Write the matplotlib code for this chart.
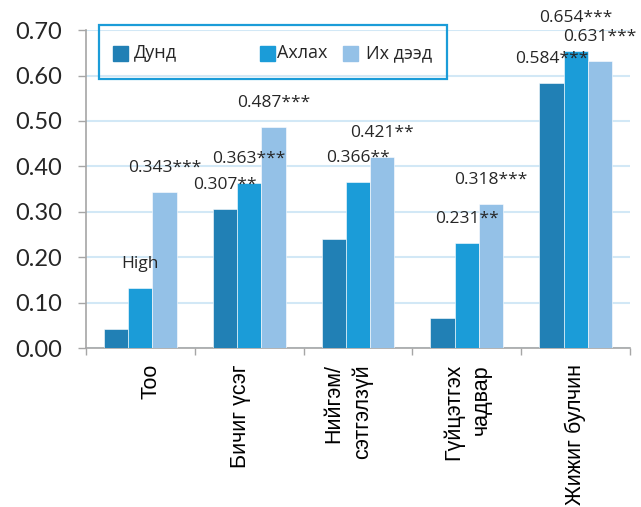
import numpy as np
import matplotlib.pyplot as plt
from matplotlib.patches import Rectangle

# Data
categories = ['Тоо', 'Бичиг үсэг', 'Нийгэм/\nсэтгэлзүй', 'Гүйцэтгэх\nчадвар', 'Жижиг булчин']
series_names = ['Дунд', 'Ахлах', 'Их дээд']
dund = [0.041, 0.307, 0.241, 0.067, 0.584]
akhlakh = [0.133, 0.363, 0.366, 0.231, 0.654]
ikh_deed = [0.343, 0.487, 0.421, 0.318, 0.631]

dund_labels = [None, '0.307**', None, None, '0.584***']
akhlakh_labels = ['High', '0.363***', '0.366**', '0.231**', '0.654***']
ikh_deed_labels = ['0.343***', '0.487***', '0.421**', '0.318***', '0.631***']

yticks = [0.0, 0.1, 0.2, 0.3, 0.4, 0.5, 0.6, 0.7]

colors = ['#2180b5', '#1b9cd8', '#94c1e7']
text_color = '#262626'
grid_color = '#d2e8f6'
axis_color = '#a6a6a6'

fig = plt.figure(figsize=(6.41, 5.07), dpi=100)
ax = fig.add_axes([0.134, 0.3136, 0.849, 0.627])

x = np.arange(len(categories))
w = 0.223
all_vals = [dund, akhlakh, ikh_deed]
all_labels = [dund_labels, akhlakh_labels, ikh_deed_labels]
for k, (vals, col) in enumerate(zip(all_vals, colors)):
    xs = x + (k - 1) * w
    ax.bar(xs, vals, width=w, color=col, edgecolor='white', linewidth=0.4, zorder=3)
    for xi, v, lab in zip(xs, vals, all_labels[k]):
        if lab is None:
            continue
        lift = 0.072 if lab == '0.654***' else 0.053
        ax.text(xi, v + lift, lab, ha='center', va='center', fontsize=12.5,
                family='Open Sans', color=text_color, zorder=5)

ax.set_xlim(-0.5, len(categories) - 0.5)
ax.set_ylim(0, 0.7)
ax.set_yticks(yticks)
ax.set_yticklabels([f'{t:.2f}' for t in yticks], family='Lato', fontsize=17, color=text_color)
ax.grid(axis='y', color=grid_color, linewidth=1.5, zorder=0)
ax.set_axisbelow(True)

ax.set_xticks(np.arange(-0.5, len(categories)), labels=[])
ax.tick_params(axis='x', length=5, color=axis_color, width=1)
ax.tick_params(axis='y', length=6, color=axis_color, width=1, pad=11)
for s in ['top', 'right']:
    ax.spines[s].set_visible(False)
for s in ['left', 'bottom']:
    ax.spines[s].set_color(axis_color)
    ax.spines[s].set_linewidth(1.2)

# rotated category labels, tops aligned like the original
label_shift = [0.1, -0.075, -0.09, 0.0, 0.0]
for i, (cat, dx) in enumerate(zip(categories, label_shift)):
    ax.text(i + dx, -0.05, cat, transform=ax.get_xaxis_transform(), rotation=90,
            ha='center', va='top', multialignment='right', linespacing=1.4,
            fontsize=15.5, family='Liberation Sans', color='black')

# legend drawn by hand in figure pixels
W, H = 641, 507
fig.patches.append(Rectangle((99 / W, 1 - 79 / H), 348 / W, 54 / H, transform=fig.transFigure,
                             fill=False, edgecolor='#1b9cd8', linewidth=1.6))
sq_x = [113, 260, 343]
txt_x = [134, 277, 366]
for sx, tx, col, name in zip(sq_x, txt_x, colors, series_names):
    fig.patches.append(Rectangle((sx / W, 1 - 61 / H), 15 / W, 15 / H,
                                 transform=fig.transFigure, color=col))
    fig.text(tx / W, 1 - 53 / H, name, ha='left', va='center', fontsize=13,
             family='Open Sans', color=text_color)

fig.savefig('out.png', dpi=100)
